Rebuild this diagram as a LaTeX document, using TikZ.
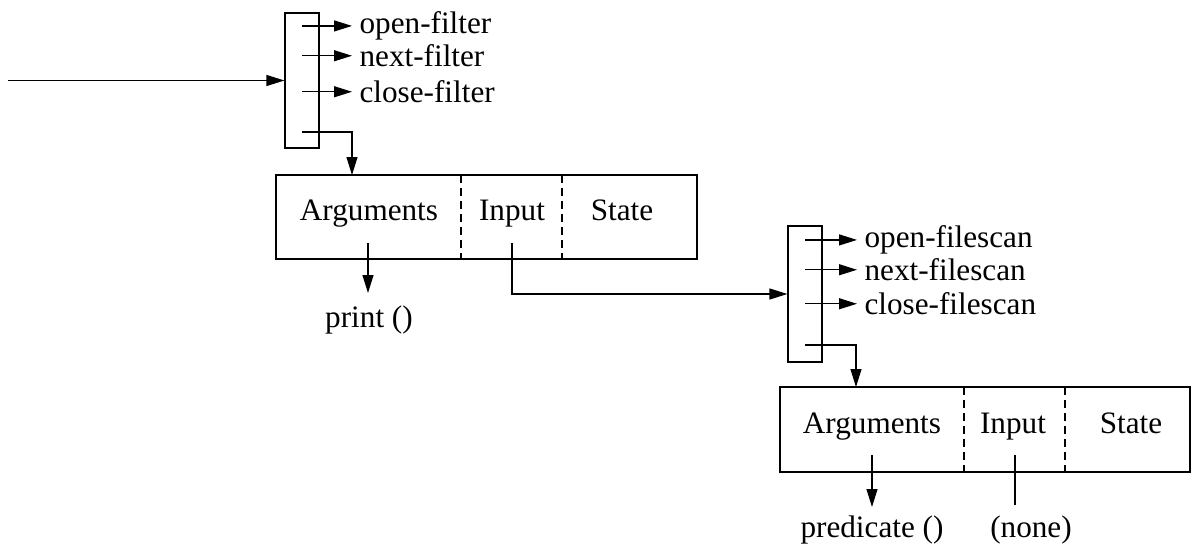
\documentclass[tikz,border=0pt]{standalone}
\usepackage{fontspec}
\setmainfont{Liberation Serif}
\usetikzlibrary{arrows.meta}
\begin{document}
\begin{tikzpicture}[x=0.5pt,y=-0.5pt,
  line width=0.6pt,
  every node/.style={font=\fontsize{15.6}{18}\selectfont},
  arr/.style={-{Triangle[length=9pt,width=5.5pt]}},
  bar/.style={draw,rectangle,minimum width=17pt,minimum height=67.5pt,inner sep=0pt},
  rec/.style={draw,rectangle,inner sep=0pt},
  lbl/.style={inner sep=0pt,anchor=mid},
  meth/.style={inner sep=3.5pt,anchor=mid west},
  divider/.style={dash pattern=on 4pt off 2.5pt}]
\useasboundingbox (0,0) rectangle (1191,546);

% ---- first iterator ----
\node[bar] (b1) at (302,80.5) {};
\coordinate (src) at (8,80.5);
\draw[arr] (src) -- (b1.west);
\node[meth] (of) at (352,29) {open-filter};
\node[meth] (nf) at (352,62) {next-filter};
\node[meth] (cf) at (352,98) {close-filter};
\draw[arr] (b1.center |- of.west) -- (of.west);
\draw[arr] (b1.center |- nf.west) -- (nf.west);
\draw[arr] (b1.center |- cf.west) -- (cf.west);

\node[rec,minimum width=210.5pt,minimum height=42pt] (box1) at (486.5,217) {};
\coordinate (b1out) at (302,132);
\coordinate (t1) at (352,175);
\draw[arr] (b1out) -| (t1);
\coordinate (d1a) at (461,175); \coordinate (d1b) at (461,259);
\coordinate (d2a) at (562,175); \coordinate (d2b) at (562,259);
\draw[divider] (d1a) -- (d1b);
\draw[divider] (d2a) -- (d2b);
\node[lbl] (arg1) at (369,216) {Arguments};
\node[lbl] (inp1) at (512,216) {Input};
\node[lbl] (st1) at (622,216) {State};
\node[lbl] (pr) at (369,323) {print ()};
\coordinate (a1s) at (368,243); \coordinate (a1e) at (368,293);
\draw[arr] (a1s) -- (a1e);

% ---- second iterator ----
\node[bar,minimum height=68pt] (b2) at (805,294) {};
\coordinate (i1s) at (512,243);
\draw[arr] (i1s) |- (b2.west);
\node[meth] (ofs) at (857,243) {open-filescan};
\node[meth] (nfs) at (857,276) {next-filescan};
\node[meth] (cfs) at (857,310) {close-filescan};
\draw[arr] (b2.center |- ofs.west) -- (ofs.west);
\draw[arr] (b2.center |- nfs.west) -- (nfs.west);
\draw[arr] (b2.center |- cfs.west) -- (cfs.west);

\node[rec,minimum width=205pt,minimum height=42.5pt] (box2) at (985,429.5) {};
\coordinate (b2out) at (805,345);
\coordinate (t2) at (856,387);
\draw[arr] (b2out) -| (t2);
\coordinate (e1a) at (964,387); \coordinate (e1b) at (964,472);
\coordinate (e2a) at (1065,387); \coordinate (e2b) at (1065,472);
\draw[divider] (e1a) -- (e1b);
\draw[divider] (e2a) -- (e2b);
\node[lbl] (arg2) at (872,429) {Arguments};
\node[lbl] (inp2) at (1013,429) {Input};
\node[lbl] (st2) at (1131,429) {State};
\coordinate (a2s) at (872,455); \coordinate (a2e) at (872,507);
\draw[arr] (a2s) -- (a2e);
\coordinate (i2s) at (1015,455); \coordinate (i2e) at (1015,505);
\draw (i2s) -- (i2e);
\node[lbl] (pred) at (872,533) {predicate ()};
\node[lbl] (none) at (1031,533) {(none)};
\end{tikzpicture}
\end{document}
